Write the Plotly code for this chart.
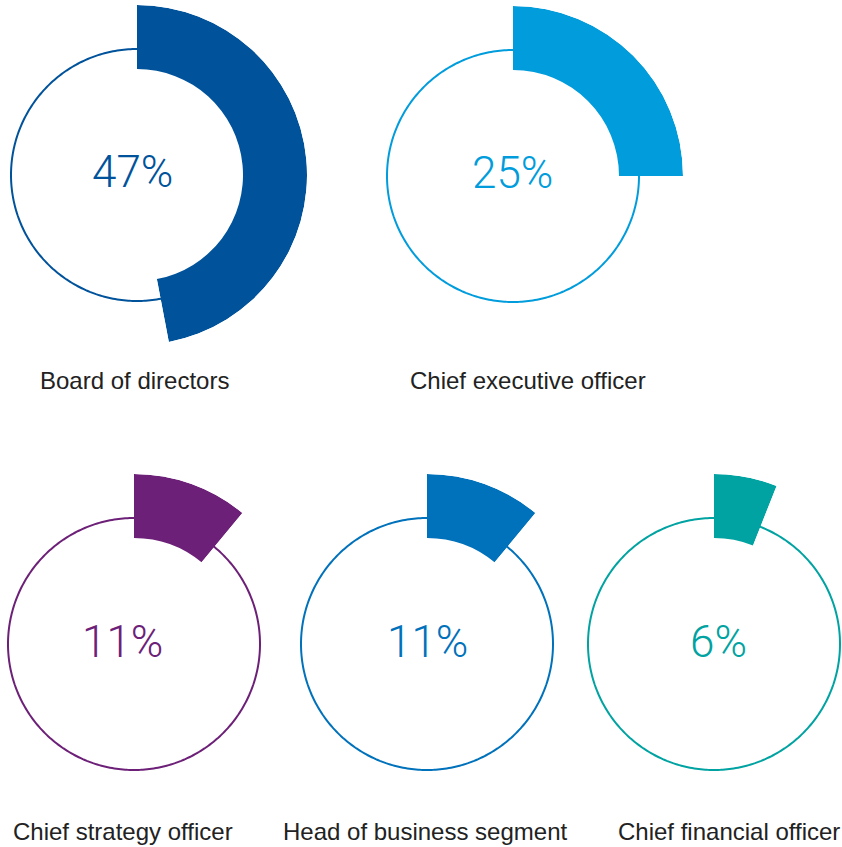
import numpy as np
import plotly.graph_objects as go

W, H = 842, 847

# data
roles = [
    "Board of directors",
    "Chief executive officer",
    "Chief strategy officer",
    "Head of business segment",
    "Chief financial officer",
]
shares = [47, 25, 11, 11, 6]  # percent
colours = ["#00539B", "#009CDC", "#6D2077", "#0071BB", "#00A3A1"]

# layout, in pixels from the top-left corner
centres = [(137, 175), (513, 176), (134, 644), (427, 644), (714, 644)]
pct_spots = [(132, 172), (512, 173), (123, 642), (427, 642), (718, 642)]
label_spots = [(134, 380), (528, 380), (123, 831), (425, 831), (729, 831)]

RING = 126  # thin circle
BASE = 106  # inner edge of the thick arc
OUTER = 170  # outer edge of the thick arc


def sector_bbox(a0, a1):
    # same box plotly fits a polar sector into (origin included)
    angs = [a0, a1] + [k for k in range(-360, 721, 90) if a0 < k < a1]
    xs = [0] + [np.cos(np.radians(a)) for a in angs]
    ys = [0] + [np.sin(np.radians(a)) for a in angs]
    return min(xs), min(ys), max(xs), max(ys)


def domain(cx, cy, r, box):
    x0, y0, x1, y1 = box
    dx = [max(0, (cx + x0 * r) / W), min(1, (cx + x1 * r) / W)]
    dy = [max(0, 1 - (cy - y0 * r) / H), min(1, 1 - (cy - y1 * r) / H)]
    return dict(x=dx, y=dy)


def hidden_polar(rmax, **kw):
    return dict(
        bgcolor="rgba(0,0,0,0)",
        radialaxis=dict(visible=False, showgrid=False, range=[0, rmax]),
        angularaxis=dict(
            visible=False, showgrid=False, rotation=90, direction="clockwise"
        ),
        **kw,
    )


fig = go.Figure()
n = len(roles)
circle_theta = np.linspace(0, 360, 361)

# thin full circles first
for i, (c, (cx, cy)) in enumerate(zip(colours, centres)):
    sp = "polar" if i == 0 else f"polar{i + 1}"
    fig.add_trace(
        go.Scatterpolar(
            r=np.full(circle_theta.size, RING),
            theta=circle_theta,
            mode="lines",
            line=dict(color=c, width=2),
            hoverinfo="skip",
            showlegend=False,
            subplot=sp,
        )
    )
    fig.layout[sp] = hidden_polar(
        RING + 2, domain=domain(cx, cy, RING + 2, (-1, -1, 1, 1))
    )

# thick arcs on top, each in a polar cut down to its own sector
for i, (v, c, (cx, cy)) in enumerate(zip(shares, colours, centres)):
    sp = f"polar{n + i + 1}"
    span = 360 * v / 100
    sector = [90 - span, 90]
    fig.add_trace(
        go.Barpolar(
            r=[OUTER - BASE],
            base=[BASE],
            theta=[span / 2],
            width=[span],
            marker=dict(color=c, line=dict(width=0)),
            name=roles[i],
            hovertemplate=f"{roles[i]}: {v}%<extra></extra>",
            showlegend=False,
            subplot=sp,
        )
    )
    fig.layout[sp] = hidden_polar(
        OUTER, sector=sector, domain=domain(cx, cy, OUTER, sector_bbox(*sector))
    )

annotations = []
for v, c, (px, py) in zip(shares, colours, pct_spots):
    annotations.append(
        dict(
            text=f"{v}%",
            x=px / W,
            y=1 - py / H,
            xref="paper",
            yref="paper",
            xanchor="center",
            yanchor="middle",
            showarrow=False,
            font=dict(family="Roboto", size=44, color=c, weight=300),
        )
    )
for role, (px, py) in zip(roles, label_spots):
    annotations.append(
        dict(
            text=role,
            x=px / W,
            y=1 - py / H,
            xref="paper",
            yref="paper",
            xanchor="center",
            yanchor="middle",
            showarrow=False,
            font=dict(family="Liberation Sans, Arial", size=24, color="#222222"),
        )
    )

fig.update_layout(
    width=W,
    height=H,
    margin=dict(l=0, r=0, t=0, b=0),
    paper_bgcolor="white",
    plot_bgcolor="white",
    showlegend=False,
    annotations=annotations,
)

# drop the default page margin so the figure fills the window exactly
fig.write_html(
    "out.html",
    config={"displayModeBar": False},
    post_script="document.body.style.margin='0';document.body.style.overflow='hidden';",
)
